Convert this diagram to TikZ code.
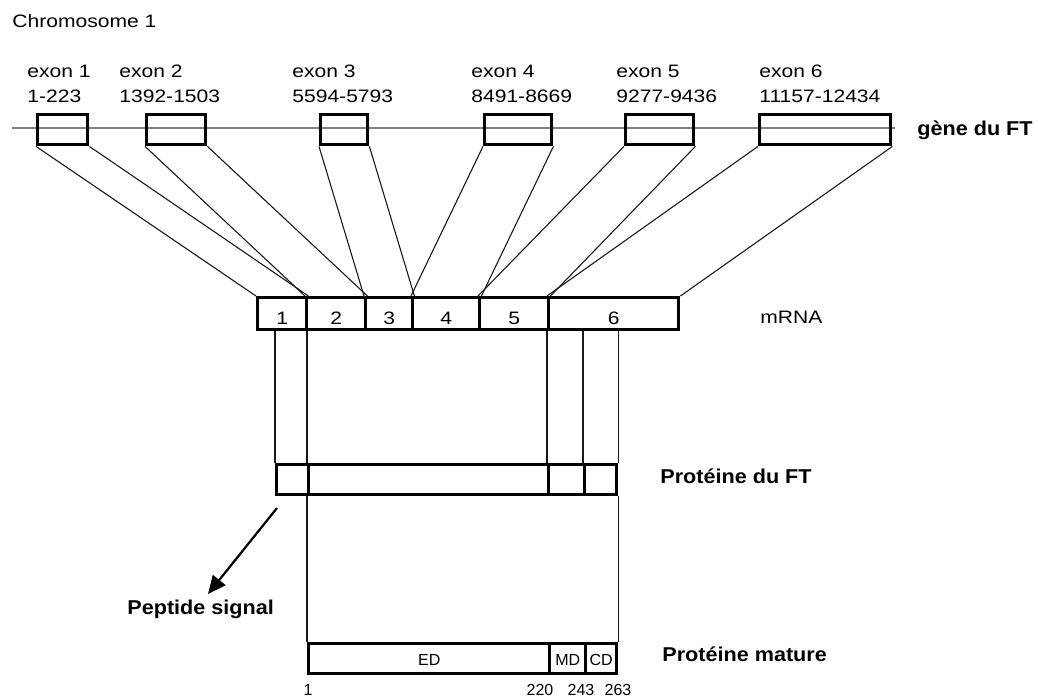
\documentclass[tikz,border=0pt]{standalone}
\usepackage{fontspec}
\setmainfont{Liberation Sans}
\newfontfamily\widesans{Liberation Sans}[FakeStretch=1.17]
\newfontfamily\headsans{Liberation Sans}[FakeStretch=1.08]
\usetikzlibrary{arrows.meta}
\tikzset{
  box/.style={draw, line width=1.7pt, inner sep=0pt, anchor=north west, minimum height=15pt},
  segbox/.style={box, minimum height=16pt, text height=10.5pt, text depth=0pt,
                 font=\widesans\fontsize{9}{11}\selectfont},
  matbox/.style={box, text height=6.5pt, text depth=0pt, font=\fontsize{8}{9.5}\selectfont},
  link/.style={line width=0.55pt, black!90},
  chrom/.style={line width=0.6pt, black!50},
  txt/.style={inner sep=0pt, anchor=base west, font=\widesans\fontsize{9}{11}\selectfont},
  head/.style={inner sep=0pt, anchor=base west, font=\headsans\bfseries\fontsize{10}{12}\selectfont},
  numlbl/.style={inner sep=0pt, anchor=base, font=\fontsize{8}{9.5}\selectfont},
  pointer/.style={line width=1.1pt, -{Triangle[length=9pt,width=8pt]}}
}
\begin{document}
\begin{tikzpicture}[x=0.5pt,y=-0.5pt]
\useasboundingbox (0,0) rectangle (1038,697);

% title
\node[txt] (chr) at (12,27) {Chromosome 1};

% exon labels
\node[txt] (x1a) at (27,77)  {exon 1};  \node[txt] (x1b) at (27,102.5)  {1-223};
\node[txt] (x2a) at (119,77) {exon 2};  \node[txt] (x2b) at (119,102.5) {1392-1503};
\node[txt] (x3a) at (292,77) {exon 3};  \node[txt] (x3b) at (292,102.5) {5594-5793};
\node[txt] (x4a) at (471,77) {exon 4};  \node[txt] (x4b) at (471,102.5) {8491-8669};
\node[txt] (x5a) at (616,77) {exon 5};  \node[txt] (x5b) at (616,102.5) {9277-9436};
\node[txt] (x6a) at (759,77) {exon 6};  \node[txt] (x6b) at (759,102.5) {11157-12434};

% gene line
\coordinate (gl) at (12,128);
\coordinate (gr) at (895,128);
\draw[chrom] (gl) -- (gr);
\node[head] (gene) at (917,135) {gène du FT};

% exons on the gene
\node[box, minimum width=25pt]   (e1) at (36,113)  {};
\node[box, minimum width=29.5pt] (e2) at (145,113) {};
\node[box, minimum width=23.5pt] (e3) at (319,113) {};
\node[box, minimum width=33.5pt] (e4) at (483,113) {};
\node[box, minimum width=34pt]   (e5) at (624,113) {};
\node[box, minimum width=65.5pt] (e6) at (758,113) {};

% mRNA
\node[segbox, minimum width=24.5pt] (m1) at (256,296) {1};
\node[segbox, minimum width=29.5pt] (m2) at (305,296) {2};
\node[segbox, minimum width=23.5pt] (m3) at (364,296) {3};
\node[segbox, minimum width=33.5pt] (m4) at (411,296) {4};
\node[segbox, minimum width=34.5pt] (m5) at (478,296) {5};
\node[segbox, minimum width=65pt]   (m6) at (547,296) {6};
\node[txt] (mrna) at (760,323) {mRNA};

% splicing connectors
\foreach \i in {1,...,6}{
  \draw[link] (e\i.south west) -- (m\i.north west);
  \draw[link] (e\i.south east) -- (m\i.north east);
}

% precursor protein
\node[box, minimum width=16pt]  (p1) at (275,463) {};
\node[box, minimum width=120pt] (p2) at (307,463) {};
\node[box, minimum width=18pt]  (p3) at (547,463) {};
\node[box, minimum width=16pt]  (p4) at (583,463) {};
\node[head] (prot) at (660,483) {Protéine du FT};

\draw[link] (p1.north west) -- (p1.north west |- m1.south);
\draw[link] (p2.north west) -- (p2.north west |- m1.south);
\draw[link] (p3.north west) -- (p3.north west |- m1.south);
\draw[link] (p4.north west) -- (p4.north west |- m1.south);
\draw[link] (p4.north east) -- (p4.north east |- m1.south);

% mature protein
\node[matbox, minimum width=120.5pt] (d1) at (307,642) {ED};
\node[matbox, minimum width=18pt]    (d2) at (548,642) {MD};
\node[matbox, minimum width=15.5pt]  (d3) at (584,642) {CD};
\node[head] (mat) at (662,661) {Protéine mature};

\draw[link] (d1.north west) -- (d1.north west |- p2.south);
\draw[link] (d3.north east) -- (d3.north east |- p4.south);

% residue numbers
\node[numlbl] (n1)   at (308,695) {1};
\node[numlbl] (n220) at (540,695) {220};
\node[numlbl] (n243) at (581,695) {243};
\node[numlbl] (n263) at (618,695) {263};

% signal peptide
\node[head] (sig) at (127,614) {Peptide signal};
\coordinate (arrs) at (277,508);
\coordinate (arrt) at (208,594);
\draw[pointer] (arrs) -- (arrt);
\end{tikzpicture}
\end{document}
